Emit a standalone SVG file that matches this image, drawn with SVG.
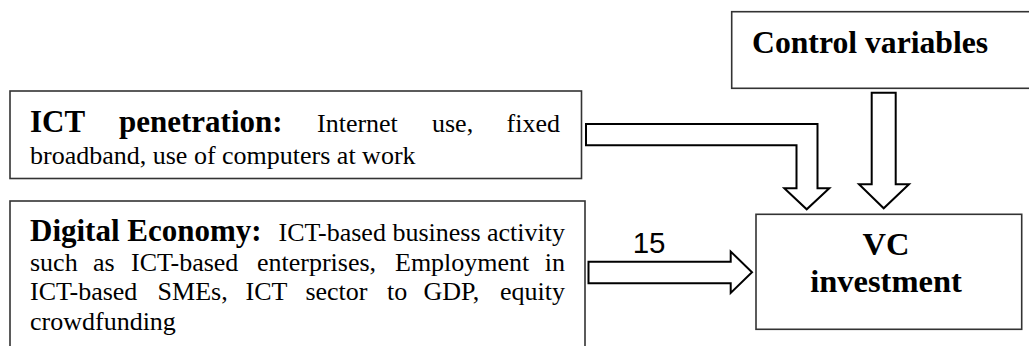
<svg xmlns="http://www.w3.org/2000/svg" width="1029" height="346" viewBox="0 0 1029 346">
<style>
.box{fill:#fff;stroke:#333;stroke-width:1.6}
.arr{fill:#fff;stroke:#000;stroke-width:2;stroke-linejoin:miter}
.b{font-family:"Liberation Serif","Times New Roman",serif;font-weight:bold;font-size:31px;fill:#000}
.r{font-family:"Liberation Serif","Times New Roman",serif;font-size:26px;fill:#000}
.lbl{font-family:"Liberation Sans",Arial,sans-serif;font-size:29.5px;fill:#000}
</style>
<rect width="1029" height="346" fill="#fff"/>
<g id="control">
<rect class="box" x="731.7" y="11.7" width="310" height="76.6"/>
<text class="b" x="752" y="53" style="font-size:31.7px">Control variables</text>
</g>
<g id="ict">
<rect class="box" x="10" y="91" width="571.5" height="87.5"/>
<text class="b" x="30" y="131.7">ICT</text>
<text class="b" x="119" y="131.7">penetration:</text>
<text class="r" x="317" y="131.7">Internet</text>
<text class="r" x="432" y="131.7">use,</text>
<text class="r" x="560" y="131.7" text-anchor="end">fixed</text>
<text class="r" x="30" y="163.5">broadband, use of computers at work</text>
</g>
<g id="digital">
<rect class="box" x="10" y="201" width="575" height="170"/>
<text class="b" x="30" y="241">Digital Economy:</text>
<text class="r" x="565" y="241" text-anchor="end">ICT-based business activity</text>
<text class="r" x="30" y="270.5">such</text>
<text class="r" x="93" y="270.5">as</text>
<text class="r" x="131" y="270.5">ICT-based</text>
<text class="r" x="257" y="270.5">enterprises,</text>
<text class="r" x="395" y="270.5">Employment</text>
<text class="r" x="565" y="270.5" text-anchor="end">in</text>
<text class="r" x="30" y="300">ICT-based</text>
<text class="r" x="157.6" y="300">SMEs,</text>
<text class="r" x="245.6" y="300">ICT</text>
<text class="r" x="305.4" y="300">sector</text>
<text class="r" x="387" y="300">to</text>
<text class="r" x="423.5" y="300">GDP,</text>
<text class="r" x="565" y="300" text-anchor="end">equity</text>
<text class="r" x="30" y="329.5">crowdfunding</text>
</g>
<g id="vc">
<rect class="box" x="756" y="214.3" width="265.7" height="115"/>
<text class="b" x="886" y="255" text-anchor="middle" style="font-size:32.5px">VC</text>
<text class="b" x="886" y="291.7" text-anchor="middle" style="font-size:32.5px">investment</text>
</g>
<g id="connectors">
<polygon class="arr" points="586,124 817.5,124 817.5,188.3 829.3,188.3 806.7,209.3 784.3,188.3 796.5,188.3 796.5,145.3 586,145.3"/>
<polygon class="arr" points="871.7,92.7 895.7,92.7 895.7,184.3 909,184.3 883.7,208.3 859,184.3 871.7,184.3"/>
<polygon class="arr" points="588.5,261.7 730.7,261.7 730.7,251.5 752,272.3 730.7,293 730.7,283.3 588.5,283.3"/>
<text class="lbl" x="632.7" y="253.3">15</text>
</g>
</svg>
